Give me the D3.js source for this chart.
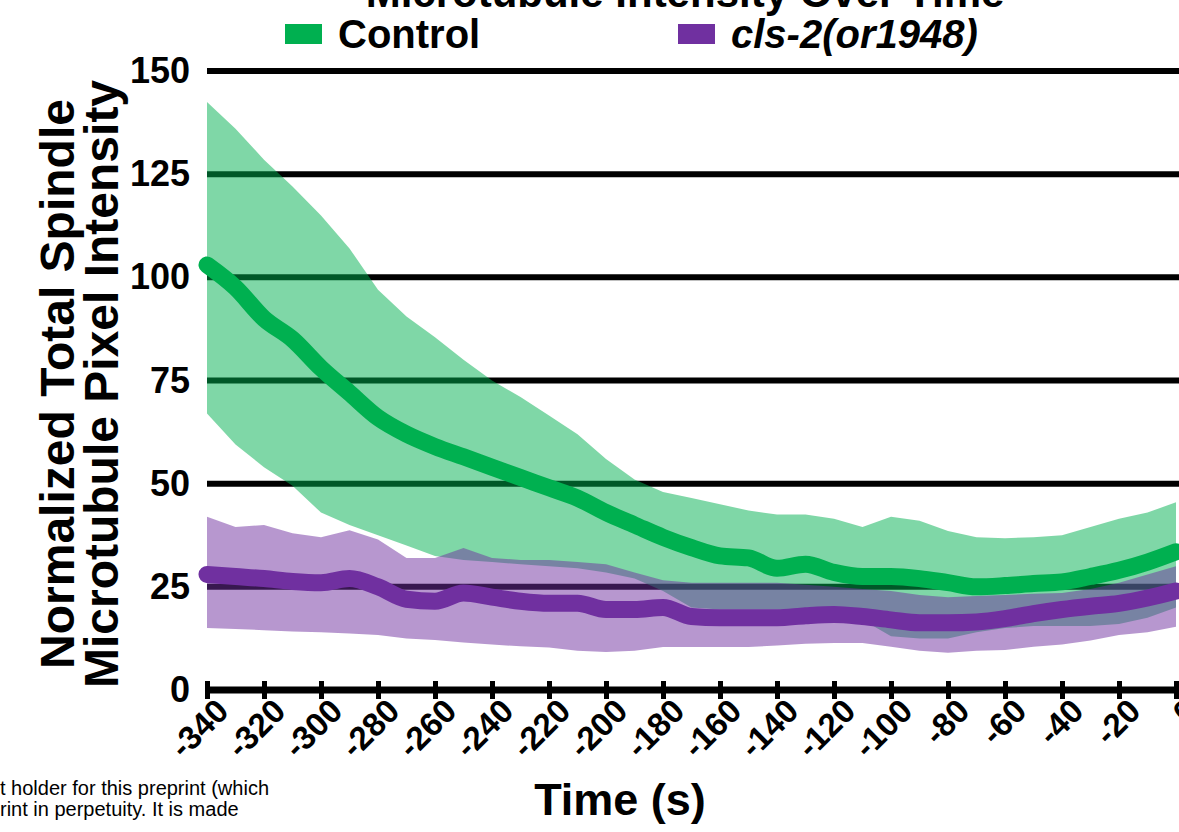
<!DOCTYPE html>
<html>
<head>
<meta charset="utf-8">
<script src="https://cdn.jsdelivr.net/npm/d3@7"></script>
<style>
  body { margin: 0; background: #fff; }
  text { font-family: "Liberation Sans", Arial, sans-serif; }
</style>
</head>
<body>
<svg id="chart" width="1179" height="832"></svg>
<script>
// time points (s), every 10 s
let times = [-340,-330,-320,-310,-300,-290,-280,-270,-260,-250,-240,-230,-220,-210,-200,-190,-180,
  -170,-160,-150,-140,-130,-120,-110,-100,-90,-80,-70,-60,-50,-40,-30,-20,-10,0];

// Control
let controlMean = [103,97.5,90,85,78,72,66,62,59,56.5,54,51.5,49,46.5,43,40,37,
  34.5,32.5,32,29.5,30.5,28.5,27.5,27.5,27,26,25,25.3,25.8,26.2,27.5,29,31,33.5];
let controlUpper = [142.5,136,128.5,122,115,107,97,90.5,85.5,80,75,71,66.5,62,56,51,48,
  46.5,45,43.5,42.5,42.5,41.5,39.5,42,41,38.5,37,36.8,37,37.5,39.5,41.5,43,45.5];
let controlLower = [67,59.5,54,49.5,43,40,37.5,35,32.5,31.5,31,30.5,30,29.5,28.5,27,24,
  20,19.5,19.5,19.5,19,19,17,13,12.5,12.5,14,15,15.5,15.5,15.5,16,17.5,20];

// cls-2(or1948)
let clsMean = [28,27.5,27,26.3,26,27,25,22,21.5,23.5,22.5,21.5,21,21,19.5,19.5,20,
  17.8,17.5,17.5,17.5,18,18.3,17.8,17,16.3,16.3,16.5,17.3,18.5,19.5,20.3,21,22.3,24];
let clsUpper = [42,39.5,40,38,37,38.7,36.5,32,32,34.4,32,31.5,31.5,31,30.5,28.5,26.6,
  26,26,26,26,25.5,25,24.5,24,23,22.5,22.8,23,23.3,23.5,24.5,26,28,30];
let clsLower = [15,14.8,14.5,14.2,14,13.7,13.3,12.5,12.1,11.5,11,10.6,10.3,9.5,9.2,9.5,10.4,
  10.4,10.4,10.4,10.8,11.2,11.4,11.4,10.5,9.5,9,9.5,9.7,10.5,11,12,13.3,14,15.3];

let xTicks = [-340,-320,-300,-280,-260,-240,-220,-200,-180,-160,-140,-120,-100,-80,-60,-40,-20,0];
let yTicks = [0,25,50,75,100,125,150];

let green = '#00b050';
let purple = '#7030a0';

let svg = d3.select('#chart');

let x = d3.scaleLinear().domain([-340, 0]).range([207, 1176]);
let y = d3.scaleLinear().domain([0, 150]).range([690, 71]);

//title (cut off at top of the picture)
svg.append('text')
    .attr('x', 685)
    .attr('y', 7)
    .attr('text-anchor', 'middle')
    .attr('font-size', 42)
    .attr('font-weight', 'bold')
    .text('Microtubule Intensity Over Time');

//legend
let legend = [
  {name: 'Control', color: green, italic: false, x: 285},
  {name: 'cls-2(or1948)', color: purple, italic: true, x: 678}
];
let lg = svg.append('g').attr('class', 'legend');
lg.selectAll('rect')
  .data(legend)
  .enter().append('rect')
    .attr('x', d => d.x)
    .attr('y', 24)
    .attr('width', 37)
    .attr('height', 20)
    .attr('fill', d => d.color);
lg.selectAll('text')
  .data(legend)
  .enter().append('text')
    .attr('x', d => d.x + 53)
    .attr('y', 48)
    .attr('font-size', 40)
    .attr('font-weight', 'bold')
    .attr('font-style', d => d.italic ? 'italic' : 'normal')
    .text(d => d.name);

//gridlines
svg.append('g')
    .attr('class', 'grid')
  .selectAll('line')
  .data(yTicks.filter(d => d > 0))
  .enter().append('line')
    .attr('x1', x(-340))
    .attr('x2', 1179)
    .attr('y1', d => y(d))
    .attr('y2', d => y(d))
    .attr('stroke', '#000')
    .attr('stroke-width', 6);

//y tick labels
svg.append('g')
    .attr('class', 'y-labels')
  .selectAll('text')
  .data(yTicks)
  .enter().append('text')
    .attr('x', 190)
    .attr('y', d => y(d) + 12)
    .attr('text-anchor', 'end')
    .attr('font-size', 36)
    .attr('font-weight', 'bold')
    .text(d => d);

//y axis title, two lines
let yTitle = svg.append('text')
    .attr('transform', 'translate(0,384) rotate(-90)')
    .attr('text-anchor', 'middle')
    .attr('font-size', 48)
    .attr('font-weight', 'bold');
yTitle.append('tspan').attr('x', 0).attr('y', 74).text('Normalized Total Spindle');
yTitle.append('tspan').attr('x', 0).attr('y', 118).text('Microtubule Pixel Intensity');

//bands
let band = d3.area()
    .x((d, i) => x(times[i]))
    .y0(d => y(d[0]))
    .y1(d => y(d[1]));

let line = d3.line()
    .x((d, i) => x(times[i]))
    .y(d => y(d))
    .curve(d3.curveMonotoneX);

svg.append('path')
    .datum(controlLower.map((d, i) => [d, controlUpper[i]]))
    .attr('fill', green)
    .attr('fill-opacity', 0.5)
    .attr('d', band);

svg.append('path')
    .datum(clsLower.map((d, i) => [d, clsUpper[i]]))
    .attr('fill', purple)
    .attr('fill-opacity', 0.5)
    .attr('d', band);

svg.append('path')
    .datum(controlMean)
    .attr('fill', 'none')
    .attr('stroke', green)
    .attr('stroke-width', 17)
    .attr('stroke-linejoin', 'round')
    .attr('stroke-linecap', 'round')
    .attr('d', line);

svg.append('path')
    .datum(clsMean)
    .attr('fill', 'none')
    .attr('stroke', purple)
    .attr('stroke-width', 17)
    .attr('stroke-linejoin', 'round')
    .attr('stroke-linecap', 'round')
    .attr('d', line);

//x axis
let xAxis = svg.append('g')
    .attr('class', 'x-axis')
    .attr('transform', 'translate(0,' + y(0) + ')')
    .call(d3.axisBottom(x).tickValues(xTicks).tickSizeOuter(0).tickSizeInner(9)
      .tickFormat(d => String(d)));

xAxis.select('.domain')
    .attr('d', 'M' + x(-340) + ',0H1179')
    .attr('stroke', '#000')
    .attr('stroke-width', 7);
xAxis.selectAll('.tick line')
    .attr('y1', -9)
    .attr('y2', 9)
    .attr('stroke', '#000')
    .attr('stroke-width', 5);
xAxis.selectAll('.tick text')
    .attr('font-family', '"Liberation Sans", Arial, sans-serif')
    .attr('font-size', 33)
    .attr('font-weight', 'bold')
    .attr('fill', '#000')
    .attr('text-anchor', 'end')
    .attr('dy', null)
    .attr('y', null)
    .attr('transform', 'translate(23,23) rotate(-45)');

//x axis title
svg.append('text')
    .attr('x', 620)
    .attr('y', 815)
    .attr('text-anchor', 'middle')
    .attr('font-size', 45)
    .attr('font-weight', 'bold')
    .text('Time (s)');

//preprint footer fragment
svg.append('text')
    .attr('x', 0)
    .attr('y', 795)
    .attr('font-size', 20)
    .text('t holder for this preprint (which');
svg.append('text')
    .attr('x', 0)
    .attr('y', 816)
    .attr('font-size', 20)
    .text('rint in perpetuity. It is made');
</script>
</body>
</html>
